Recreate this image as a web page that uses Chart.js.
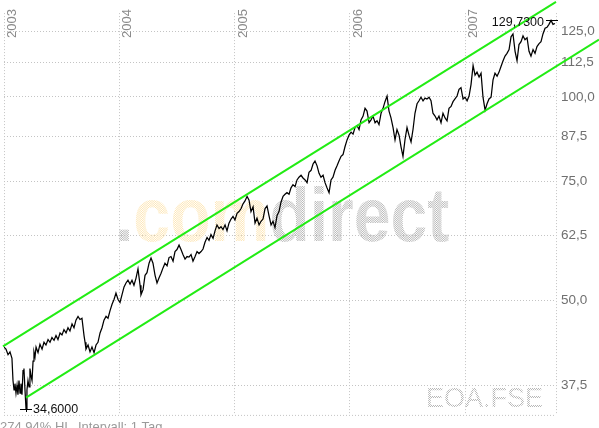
<!DOCTYPE html>
<html>
<head>
<meta charset="utf-8">
<title>EOA.FSE</title>
<script src="https://cdn.jsdelivr.net/npm/chart.js@4.4.1/dist/chart.umd.min.js"></script>
<style>
  html, body { margin: 0; padding: 0; background: #fff; }
  canvas { display: block; }
</style>
</head>
<body>
<canvas id="priceChart" width="599" height="428"></canvas>
<script>
// Closing prices as [decimal year, EUR]
const prices2003 = [
  [2003.000, 42.7], [2003.017, 42.4], [2003.035, 41.6], [2003.052, 42.0], [2003.069, 41.1],
  [2003.078, 38.1], [2003.087, 36.9], [2003.095, 37.7], [2003.104, 36.5], [2003.113, 37.5],
  [2003.121, 36.3], [2003.130, 38.1], [2003.139, 36.5], [2003.147, 37.7], [2003.156, 36.3],
  [2003.165, 39.4], [2003.173, 39.7], [2003.182, 36.9], [2003.191, 34.6], [2003.199, 36.9],
  [2003.208, 38.1], [2003.217, 37.3], [2003.225, 39.7], [2003.234, 38.7], [2003.243, 38.1],
  [2003.252, 40.7], [2003.260, 42.0], [2003.269, 41.3], [2003.278, 42.7], [2003.295, 41.9],
  [2003.312, 43.1], [2003.330, 42.4], [2003.347, 43.4], [2003.364, 43.0], [2003.382, 43.8],
  [2003.399, 43.4], [2003.416, 44.1], [2003.434, 43.7], [2003.451, 44.4], [2003.468, 43.8],
  [2003.486, 44.8], [2003.503, 44.5], [2003.520, 45.3], [2003.538, 44.8], [2003.555, 45.6],
  [2003.572, 45.1], [2003.590, 46.2], [2003.607, 45.6], [2003.624, 46.8], [2003.642, 47.4],
  [2003.659, 46.9], [2003.676, 47.1], [2003.694, 44.4], [2003.703, 43.4], [2003.711, 42.4],
  [2003.729, 43.0], [2003.746, 42.0], [2003.763, 42.7], [2003.781, 41.9], [2003.798, 43.0],
  [2003.815, 43.4], [2003.833, 44.8], [2003.850, 45.6], [2003.867, 46.8], [2003.885, 47.4],
  [2003.902, 47.1], [2003.919, 48.3], [2003.937, 49.4], [2003.954, 50.2], [2003.971, 51.3],
  [2003.989, 50.2]
];
const prices2004 = [
  [2004.006, 49.7], [2004.023, 51.0], [2004.041, 52.4], [2004.058, 53.1], [2004.075, 53.6],
  [2004.093, 52.9], [2004.110, 53.6], [2004.127, 52.7], [2004.145, 54.0], [2004.162, 55.7],
  [2004.180, 52.7], [2004.188, 51.0], [2004.206, 51.9], [2004.223, 54.5], [2004.240, 55.0],
  [2004.258, 56.8], [2004.275, 57.8], [2004.292, 56.8], [2004.310, 54.5], [2004.327, 53.1],
  [2004.344, 54.0], [2004.362, 54.9], [2004.379, 55.9], [2004.396, 56.8], [2004.414, 56.3],
  [2004.431, 57.9], [2004.448, 58.1], [2004.466, 57.2], [2004.483, 59.1], [2004.500, 59.5],
  [2004.518, 60.4], [2004.535, 59.5], [2004.552, 58.5], [2004.570, 57.6], [2004.587, 58.1],
  [2004.604, 58.0], [2004.622, 58.5], [2004.639, 57.2], [2004.657, 58.1], [2004.674, 59.1],
  [2004.691, 58.7], [2004.709, 59.1], [2004.726, 59.6], [2004.743, 61.0], [2004.761, 62.0],
  [2004.778, 61.4], [2004.795, 62.6], [2004.813, 61.8], [2004.830, 63.4], [2004.847, 64.7],
  [2004.865, 63.9], [2004.882, 64.3], [2004.899, 63.7], [2004.917, 64.7], [2004.934, 63.4],
  [2004.951, 65.1], [2004.969, 66.0], [2004.986, 66.6]
];
const prices2005 = [
  [2005.003, 65.8], [2005.021, 67.3], [2005.038, 67.7], [2005.056, 68.4], [2005.073, 69.5],
  [2005.090, 70.2], [2005.108, 71.3], [2005.125, 70.4], [2005.142, 67.7], [2005.160, 68.8],
  [2005.177, 65.1], [2005.194, 66.2], [2005.212, 64.7], [2005.229, 65.5], [2005.246, 66.0],
  [2005.264, 68.4], [2005.281, 69.0], [2005.298, 66.8], [2005.316, 64.7], [2005.333, 65.5],
  [2005.350, 64.1], [2005.368, 66.8], [2005.385, 67.7], [2005.402, 69.9], [2005.420, 71.3],
  [2005.437, 71.8], [2005.454, 72.2], [2005.472, 71.8], [2005.489, 73.4], [2005.506, 74.2],
  [2005.524, 73.7], [2005.541, 75.4], [2005.558, 76.1], [2005.576, 76.6], [2005.593, 75.9],
  [2005.611, 75.4], [2005.628, 74.7], [2005.645, 77.4], [2005.663, 77.9], [2005.680, 79.6],
  [2005.697, 80.4], [2005.715, 79.1], [2005.732, 77.1], [2005.749, 76.1], [2005.767, 76.6],
  [2005.784, 74.7], [2005.801, 73.4], [2005.819, 72.2], [2005.836, 75.4], [2005.853, 76.1],
  [2005.871, 77.9], [2005.888, 79.1], [2005.905, 80.4], [2005.923, 81.7], [2005.940, 82.2],
  [2005.957, 84.4], [2005.975, 86.4], [2005.992, 87.8]
];
const prices2006 = [
  [2006.010, 88.7], [2006.027, 88.1], [2006.044, 90.1], [2006.062, 90.7], [2006.079, 89.5],
  [2006.096, 92.5], [2006.114, 93.7], [2006.131, 96.2], [2006.148, 95.3], [2006.166, 91.6],
  [2006.183, 92.5], [2006.200, 93.7], [2006.218, 91.6], [2006.235, 92.2], [2006.252, 91.0],
  [2006.270, 94.6], [2006.287, 96.2], [2006.304, 98.4], [2006.322, 100.3], [2006.339, 95.3],
  [2006.356, 93.1], [2006.374, 90.1], [2006.391, 86.4], [2006.408, 89.5], [2006.426, 87.8],
  [2006.443, 84.4], [2006.460, 81.7], [2006.478, 86.6], [2006.495, 90.1], [2006.512, 87.8],
  [2006.530, 85.8], [2006.547, 89.5], [2006.564, 94.6], [2006.582, 97.7], [2006.599, 98.7],
  [2006.616, 99.9], [2006.634, 98.7], [2006.651, 99.6], [2006.668, 99.3], [2006.686, 99.9],
  [2006.703, 98.7], [2006.720, 94.6], [2006.738, 93.7], [2006.755, 92.5], [2006.772, 93.7],
  [2006.790, 91.6], [2006.807, 94.6], [2006.825, 93.1], [2006.842, 92.2], [2006.859, 96.2],
  [2006.877, 96.8], [2006.894, 98.4], [2006.911, 99.3], [2006.929, 100.3], [2006.946, 102.6],
  [2006.963, 103.2], [2006.981, 99.3], [2006.998, 99.9]
];
const prices2007 = [
  [2007.016, 98.7], [2007.033, 100.3], [2007.050, 104.3], [2007.068, 111.3], [2007.085, 107.7],
  [2007.102, 108.8], [2007.120, 107.0], [2007.137, 108.4], [2007.154, 99.9], [2007.172, 95.6],
  [2007.189, 97.7], [2007.206, 99.3], [2007.224, 99.9], [2007.241, 106.0], [2007.258, 108.4],
  [2007.276, 107.3], [2007.293, 108.8], [2007.310, 110.9], [2007.328, 113.1], [2007.345, 114.9],
  [2007.362, 116.0], [2007.380, 117.5], [2007.397, 122.7], [2007.414, 123.9], [2007.432, 116.8],
  [2007.449, 113.1], [2007.466, 119.5], [2007.484, 120.7], [2007.501, 123.1], [2007.518, 121.5],
  [2007.536, 122.3], [2007.553, 116.8], [2007.570, 114.9], [2007.588, 117.5], [2007.605, 116.0],
  [2007.622, 118.7], [2007.640, 119.9], [2007.657, 120.7], [2007.674, 123.9], [2007.692, 126.3],
  [2007.709, 126.7], [2007.726, 128.0], [2007.744, 129.73], [2007.761, 128.0], [2007.778, 128.4]
];

// trend channel (start / end)
const channelUpper = [[2002.991, 42.8], [2007.787, 138.2]];
const channelLower = [[2003.191, 35.95], [2008.160, 121.5]];

// extremes
const lowPoint = [2003.191, 34.6];
const highPoint = [2007.744, 129.73];
const lowLabel = '34,6000';
const highLabel = '129,7300';

const yearTicks = [2003, 2004, 2005, 2006, 2007];
const yearLabels = ['2003', '2004', '2005', '2006', '2007'];
const priceTicks = [37.5, 50, 62.5, 75, 87.5, 100, 112.5, 125];

const symbolText = 'EOA.FSE';
const footerLeft = '274,94% HI';
const footerRight = 'Intervall: 1 Tag';

const FONT = "'Liberation Sans', Arial, sans-serif";
const GRID = '#c4c4c4';
const GREEN = '#22ec14';

const allPrices = [].concat(prices2003, prices2004, prices2005, prices2006, prices2007);
const toXY = arr => arr.map(p => ({ x: p[0], y: p[1] }));

function dotPattern(ctx, color) {
  const c = document.createElement('canvas');
  c.width = 2; c.height = 2;
  const g = c.getContext('2d');
  g.fillStyle = color;
  g.fillRect(0, 0, 1, 1);
  g.fillRect(1, 1, 1, 1);
  return ctx.createPattern(c, 'repeat');
}

// watermark, year labels, borders, extremes, footer
const decorations = {
  id: 'decorations',
  beforeDatasetsDraw(chart) {
    const { ctx, chartArea, scales } = chart;
    const grey = dotPattern(ctx, '#b8b8b8');
    const yellow = dotPattern(ctx, '#fde6b6');

    ctx.save();
    // .comdirect watermark
    ctx.font = 'bold 76px ' + FONT;
    ctx.textBaseline = 'alphabetic';
    ctx.translate(115, 241);
    ctx.scale(0.87, 1);
    let x = 0;
    [['.', grey], ['com', yellow], ['direct', grey]].forEach(([t, fill]) => {
      ctx.fillStyle = fill;
      ctx.fillText(t, x, 0);
      x += ctx.measureText(t).width;
    });
    ctx.restore();

    ctx.save();
    ctx.font = '27px ' + FONT;
    ctx.fillStyle = grey;
    ctx.textAlign = 'right';
    ctx.fillText(symbolText, 543, 407);
    ctx.restore();

    // rotated year labels
    ctx.save();
    ctx.font = '13px ' + FONT;
    ctx.fillStyle = '#8a8a8a';
    ctx.textBaseline = 'top';
    yearTicks.forEach((yr, i) => {
      const px = scales.x.getPixelForValue(yr);
      ctx.save();
      ctx.translate(px + 2, 38);
      ctx.rotate(-Math.PI / 2);
      ctx.fillText(yearLabels[i], 0, 0);
      ctx.restore();
    });
    ctx.restore();

    // dotted right and bottom border
    ctx.save();
    ctx.strokeStyle = GRID;
    ctx.lineWidth = 1;
    ctx.setLineDash([1, 2]);
    ctx.beginPath();
    ctx.moveTo(chartArea.right + 0.5, chartArea.top);
    ctx.lineTo(chartArea.right + 0.5, chartArea.bottom);
    ctx.moveTo(chartArea.left, chartArea.bottom + 0.5);
    ctx.lineTo(chartArea.right, chartArea.bottom + 0.5);
    ctx.stroke();
    ctx.restore();
  },
  afterDraw(chart) {
    const { ctx, scales } = chart;
    const lx = Math.round(scales.x.getPixelForValue(lowPoint[0]));
    const ly = Math.round(scales.y.getPixelForValue(lowPoint[1]));
    const hx = Math.round(scales.x.getPixelForValue(highPoint[0]));
    const hy = Math.round(scales.y.getPixelForValue(highPoint[1]));

    ctx.save();
    ctx.strokeStyle = '#000';
    ctx.lineWidth = 1;
    ctx.beginPath();
    ctx.moveTo(lx - 6, ly + 0.5);
    ctx.lineTo(lx + 6, ly + 0.5);
    ctx.moveTo(lx + 0.5, ly);
    ctx.lineTo(lx + 0.5, ly + 3);
    ctx.moveTo(hx - 5, hy + 0.5);
    ctx.lineTo(hx + 7, hy + 0.5);
    ctx.stroke();

    ctx.font = '12.5px ' + FONT;
    ctx.fillStyle = '#111';
    ctx.textAlign = 'left';
    ctx.fillText(lowLabel, lx + 7, ly + 4);
    ctx.textAlign = 'right';
    ctx.fillText(highLabel, hx - 7, hy + 6);

    ctx.font = '13px ' + FONT;
    ctx.fillStyle = '#9a9a9a';
    ctx.textAlign = 'left';
    ctx.fillText(footerLeft, 0, 431);
    ctx.fillText(footerRight, 78, 431);
    ctx.restore();
  }
};

new Chart(document.getElementById('priceChart').getContext('2d'), {
  type: 'line',
  data: {
    datasets: [
      {
        label: 'Trend oben',
        data: toXY(channelUpper),
        borderColor: GREEN,
        borderWidth: 2,
        pointRadius: 0,
        clip: false
      },
      {
        label: 'Trend unten',
        data: toXY(channelLower),
        borderColor: GREEN,
        borderWidth: 2,
        pointRadius: 0,
        clip: false
      },
      {
        label: 'EOA.FSE',
        data: toXY(allPrices),
        borderColor: '#000',
        borderWidth: 1.25,
        pointRadius: 0,
        tension: 0
      }
    ]
  },
  options: {
    responsive: false,
    animation: false,
    layout: { padding: { left: 4, right: 0, top: 0, bottom: 0 } },
    plugins: {
      legend: { display: false },
      tooltip: { enabled: false }
    },
    scales: {
      x: {
        type: 'linear',
        min: 2003,
        max: 2007.787,
        afterBuildTicks: s => { s.ticks = yearTicks.map(v => ({ value: v })); },
        afterFit: s => { s.height = 7; },
        ticks: { display: false },
        grid: { color: GRID, drawTicks: false },
        border: { display: false, dash: [1, 2] }
      },
      y: {
        type: 'logarithmic',
        position: 'right',
        min: 33.9,
        max: 133,
        afterBuildTicks: s => { s.ticks = priceTicks.map(v => ({ value: v })); },
        afterFit: s => { s.width = 43; },
        ticks: {
          padding: 5,
          color: '#707070',
          font: { family: FONT, size: 13.5 },
          callback: v => v.toFixed(1).replace('.', ',')
        },
        grid: { color: GRID, drawTicks: false },
        border: { display: false, dash: [1, 2] }
      }
    }
  },
  plugins: [decorations]
});
</script>
</body>
</html>
